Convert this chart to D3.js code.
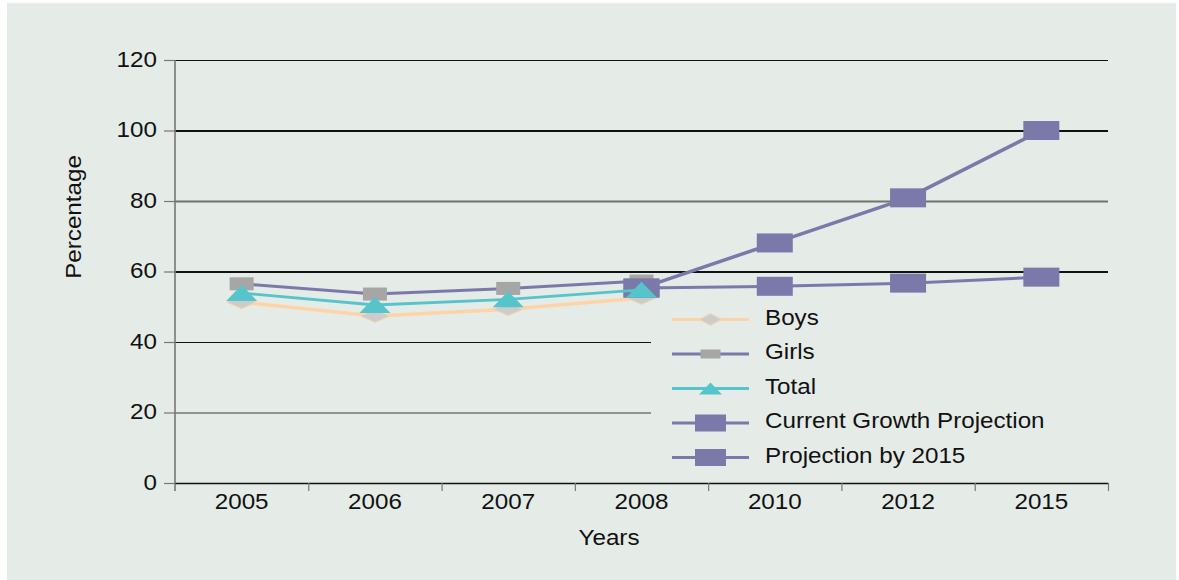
<!DOCTYPE html>
<html>
<head>
<meta charset="utf-8">
<script src="https://cdn.jsdelivr.net/npm/d3@7/dist/d3.min.js"></script>
<style>
  html, body { margin: 0; padding: 0; background: #ffffff; }
  svg { display: block; }
  text { font-family: "Liberation Sans", Arial, sans-serif; fill: #111; }
</style>
</head>
<body>
<svg id="chart" width="1179" height="580"></svg>
<script>
// ---- data ----
const years = ["2005", "2006", "2007", "2008", "2010", "2012", "2015"];
const surveyYears = ["2005", "2006", "2007", "2008"];
const projectionYears = ["2008", "2010", "2012", "2015"];

const boys = [51.3, 47.4, 49.3, 52.5];
const girls = [56.5, 53.6, 55.2, 57.3];
const total = [53.9, 50.5, 52.1, 54.8];
const currentGrowth = [55.3, 55.8, 56.7, 58.4];
const projection2015 = [55.3, 68.1, 80.9, 100];

const yTicks = [0, 20, 40, 60, 80, 100, 120];
const legendNames = ["Boys", "Girls", "Total", "Current Growth Projection", "Projection by 2015"];

// ---- layout ----
const svg = d3.select("#chart");
const W = 1179, H = 580;
const plotLeft = 175, plotRight = 1108, plotTop = 60, plotBottom = 483;
const bg = "#e5ebe7";
const stretch = "scale(1.1,1)";

svg.append("rect").attr("x", 7).attr("y", 3).attr("width", W - 10).attr("height", H - 3).attr("fill", bg);

const x = d3.scaleBand().domain(years).range([plotLeft, plotRight]).padding(0);
const cx = d => x(d) + x.bandwidth() / 2;
const y = d3.scaleLinear().domain([0, 120]).range([plotBottom, plotTop]);

// ---- gridlines ----
const gridStyle = {
  120: { c: "#111", w: 1.2 },
  100: { c: "#111", w: 2 },
  80: { c: "#6f7671", w: 2 },
  60: { c: "#111", w: 2 },
  40: { c: "#111", w: 1.2 },
  20: { c: "#737873", w: 1.6 }
};
const grid = svg.append("g").attr("transform", `translate(${plotLeft},0)`)
  .call(d3.axisLeft(y).tickValues(yTicks.filter(v => v > 0)).tickSize(-(plotRight - plotLeft)).tickFormat(""));
grid.select(".domain").remove();
grid.selectAll(".tick line")
  .attr("stroke", d => gridStyle[d].c)
  .attr("stroke-width", d => gridStyle[d].w);

// legend panel hides the lower gridlines on the right
const legendX = 651;
svg.append("rect").attr("x", legendX).attr("y", 300).attr("width", plotRight - legendX + 2).attr("height", 178).attr("fill", bg);

// ---- axes ----
const yAxis = svg.append("g").attr("transform", `translate(${plotLeft},0)`)
  .call(d3.axisLeft(y).tickValues(yTicks).tickSize(11));
yAxis.select(".domain").remove();
yAxis.selectAll(".tick line").attr("stroke", "#777").attr("stroke-width", 1.2);
yAxis.selectAll(".tick text")
  .attr("x", -16.4).attr("dy", "0.29em")
  .attr("transform", stretch)
  .style("font-size", "22px");
svg.append("line").attr("x1", plotLeft).attr("x2", plotLeft).attr("y1", plotTop).attr("y2", plotBottom + 8)
  .attr("stroke", "#777").attr("stroke-width", 1.6);

const xAxis = svg.append("g").attr("transform", `translate(0,${plotBottom})`)
  .call(d3.axisBottom(x).tickSize(0).tickPadding(10));
xAxis.select(".domain").attr("stroke", "#111").attr("stroke-width", 1.3);
xAxis.selectAll(".tick text").attr("transform", stretch).style("font-size", "22px");

const edges = d3.scaleLinear().domain([0, years.length]).range([plotLeft, plotRight]);
const xTicks = svg.append("g").attr("transform", `translate(0,${plotBottom})`)
  .call(d3.axisBottom(edges).tickValues(d3.range(1, years.length + 1)).tickSize(8).tickFormat(""));
xTicks.select(".domain").remove();
xTicks.selectAll(".tick line").attr("stroke", "#777").attr("stroke-width", 1.2);

svg.append("text").attr("transform", `translate(609,545) ${stretch}`)
  .attr("text-anchor", "middle").style("font-size", "22px").text("Years");
svg.append("text").attr("transform", `translate(81,217) rotate(-90) scale(1.1,1)`)
  .attr("text-anchor", "middle").style("font-size", "22px").text("Percentage");

// ---- marker shapes ----
function marker(g, kind, w, h) {
  if (kind === "diamond") {
    return g.append("path").attr("d", `M0,${-h / 2}L${w / 2},0L0,${h / 2}L${-w / 2},0Z`)
      .attr("fill", "#cccccc").attr("stroke", "#fcd6ab").attr("stroke-width", 1);
  }
  if (kind === "triangle") {
    return g.append("path").attr("d", `M0,${-h / 2}L${w / 2},${h / 2}L${-w / 2},${h / 2}Z`)
      .attr("fill", "#55c5cb");
  }
  if (kind === "graySquare") {
    return g.append("rect").attr("x", -w / 2).attr("y", -h / 2).attr("width", w).attr("height", h)
      .attr("fill", "#a6a6a6");
  }
  return g.append("rect").attr("x", -w / 2).attr("y", -h / 2).attr("width", w).attr("height", h)
    .attr("fill", "#7b79aa");
}

const series = [
  { name: "Boys", cats: surveyYears, vals: boys, line: "#fdd4a8", lw: 3.5, kind: "diamond", mw: 30, mh: 13, lmw: 22, lmh: 12 },
  { name: "Girls", cats: surveyYears, vals: girls, line: "#7b79aa", lw: 3, kind: "graySquare", mw: 24, mh: 13, lmw: 20, lmh: 9 },
  { name: "Current Growth Projection", cats: projectionYears, vals: currentGrowth, line: "#7b79aa", lw: 3, kind: "square", mw: 36, mh: 19, lmw: 31, lmh: 17 },
  { name: "Projection by 2015", cats: projectionYears, vals: projection2015, line: "#7b79aa", lw: 3.5, kind: "square", mw: 36, mh: 19, lmw: 31, lmh: 17 },
  { name: "Total", cats: surveyYears, vals: total, line: "#55c5cb", lw: 2.8, kind: "triangle", mw: 31, mh: 16, lmw: 23, lmh: 12 }
];

const lineGen = d3.line().x(d => cx(d[0])).y(d => y(d[1]));
series.forEach(s => {
  const pts = s.cats.map((c, i) => [c, s.vals[i]]);
  const g = svg.append("g");
  g.append("path").attr("d", lineGen(pts)).attr("fill", "none")
    .attr("stroke", s.line).attr("stroke-width", s.lw).attr("stroke-linejoin", "round");
  pts.forEach(p => {
    const m = g.append("g").attr("transform", `translate(${cx(p[0])},${y(p[1])})`);
    marker(m, s.kind, s.mw, s.mh);
  });
});

// ---- legend ----
const legend = svg.append("g");
legendNames.forEach((name, i) => {
  const s = series.find(d => d.name === name);
  const ry = 319.5 + i * 34.5;
  const row = legend.append("g").attr("transform", `translate(672,${ry})`);
  row.append("line").attr("x1", 0).attr("x2", 77).attr("y1", 0).attr("y2", 0)
    .attr("stroke", s.line).attr("stroke-width", Math.min(s.lw, 3));
  const m = row.append("g").attr("transform", "translate(38.5,0)");
  marker(m, s.kind, s.lmw, s.lmh);
  row.append("text").attr("transform", `translate(93,5) ${stretch}`)
    .style("font-size", "22px").text(name);
});
</script>
</body>
</html>
